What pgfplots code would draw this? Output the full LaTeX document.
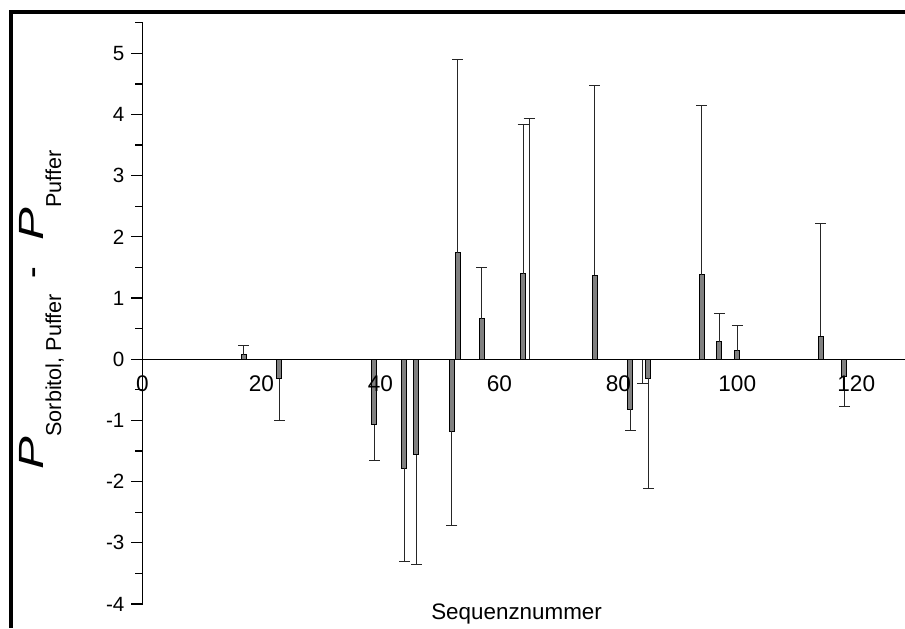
\documentclass[border=0pt]{standalone}
\usepackage{pgfplots}
\pgfplotsset{compat=1.18}
\usepackage{fontspec}
\setmainfont{Liberation Sans}
\begin{document}
\begin{tikzpicture}[x=1pt,y=1pt]
\useasboundingbox (0,0) rectangle (452.5,314);
\draw[line width=1.6pt] (5.5,0) -- (5.5,308) -- (460,308);
\begin{axis}[
  at={(71.25pt,12pt)}, anchor=south west,
  scale only axis, width=381.25pt, height=290.65pt,
  xmin=0, xmax=128.2, ymin=-4, ymax=5.5,
  axis x line=middle, axis y line=left,
  axis line style={-, line width=0.6pt},
  hide obscured x ticks=false, hide obscured y ticks=false,
  clip=false,
  xtick={0,20,...,120},
  xticklabel style={font=\fontsize{11.3}{13}\selectfont, yshift=1pt},
  x tick style={draw=none},
  extra x ticks={10,30,50,70,90,110},
  extra x tick labels={},
  extra x tick style={tick align=center, major tick length=6pt, tick style={draw=black, line width=0.6pt}},
  ytick={-4,-3,...,5},
  minor ytick={-3.5,-2.5,...,5.5},
  y tick style={line width=0.6pt, black},
  tick align=outside,
  major tick length=5.5pt, minor tick length=3.5pt,
  yticklabel style={font=\fontsize{10.3}{12}\selectfont},
  /pgf/number format/assume math mode=true,
  xlabel={Sequenznummer},
  xlabel style={at={(rel axis cs:0.4906,0)}, anchor=base, yshift=-7.5pt, font=\fontsize{11.2}{13}\selectfont},
  ylabel={\scalebox{1.4}[1]{\fontsize{17.5}{20}\selectfont\itshape P}\raisebox{-9pt}{\fontsize{10.8}{13}\selectfont Sorbitol, Puffer}\hspace{8pt}{\fontsize{17.5}{20}\selectfont -}\hspace{13pt}\scalebox{1.4}[1]{\fontsize{17.5}{20}\selectfont\itshape P}\raisebox{-9pt}{\fontsize{10.8}{13}\selectfont Puffer}},
  ylabel style={at={(axis description cs:-0.1325,0.506)}, anchor=center, inner sep=0pt},
  axis on top,
]
% positive differences, error upward
\addplot[ybar, bar shift=0pt, bar width=2.5pt, fill=black!50, draw=black, line width=0.5pt,
  error bars/.cd, y dir=plus, y explicit,
  error bar style={line width=0.5pt, black!85},
  error mark options={rotate=90, mark size=2.75pt, line width=0.5pt, black!85}]
  table[x=x, y=y, y error=e] {
x y e
17 0.07 0.16
53 1.74 3.16
57 0.66 0.84
64 1.40 2.44
65 0.00 3.93
76 1.37 3.11
94 1.38 2.76
97 0.29 0.46
100 0.14 0.41
114 0.38 1.84
};
% negative differences, error downward
\addplot[ybar, bar shift=0pt, bar width=2.5pt, fill=black!50, draw=black, line width=0.5pt,
  error bars/.cd, y dir=minus, y explicit,
  error bar style={line width=0.5pt, black!85},
  error mark options={rotate=90, mark size=2.75pt, line width=0.5pt, black!85}]
  table[x=x, y=y, y error=e] {
x y e
23 -0.32 0.68
39 -1.07 0.59
44 -1.78 1.53
46 -1.56 1.79
52 -1.18 1.53
82 -0.82 0.35
84 0.00 0.39
85 -0.31 1.80
118 -0.28 0.49
};
\end{axis}
\end{tikzpicture}
\end{document}
